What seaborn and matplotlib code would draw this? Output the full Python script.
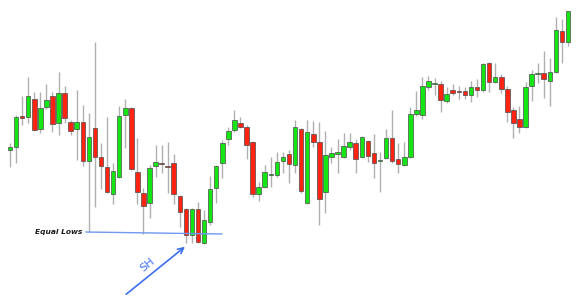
import numpy as np
import pandas as pd
import matplotlib
matplotlib.use("Agg")
import matplotlib.pyplot as plt
import seaborn as sns

opens = [150, 153, 184, 183, 201, 171, 193, 204, 177, 207, 178, 171, 178, 139, 172, 143, 133, 106, 123, 185,
         192, 128, 107, 97, 134, 137.5, 134.5, 137, 104, 91, 65, 91, 57, 78, 112, 137, 161, 170, 177, 173,
         158, 106, 113, 125.5, 125, 139, 146, 135, 171, 97, 166, 158, 108, 143, 146, 143, 153, 157, 143, 159,
         147, 139.5, 142, 162, 141, 135, 143, 186, 185, 213, 216.5, 216, 199, 210, 209, 209, 205, 213, 210, 237,
         218, 223, 211, 190, 181, 173, 214, 226.5, 227, 219, 228, 269, 258]
highs = [157, 185, 204, 223, 208, 208, 216, 208, 228, 214, 180, 210, 195, 187, 258, 157, 183, 137, 194, 201,
         193, 162, 112, 135, 155, 155, 158, 146, 105, 92, 92, 98, 90, 124, 135, 160, 173, 190, 183, 175,
         159, 118, 135, 143, 148, 148, 150, 180, 172, 180, 179, 178, 169, 153, 161, 167, 167, 161, 164, 160,
         166, 148, 171, 190, 157, 158, 193, 209, 223, 224, 222, 219, 213, 216, 214, 213, 219, 221, 237, 238,
         237, 226, 214, 193, 194, 218, 230, 237, 249, 242, 283, 281, 289]
lows = [133, 137, 175, 177, 169, 167, 191, 168, 165, 177, 165, 140, 134, 68, 93, 111, 107, 96, 122, 152,
        130, 96, 66, 82, 123, 127, 107, 96, 73, 57, 57, 57, 56, 75, 97, 122, 155, 168, 172, 141,
        103, 99, 112, 113, 123, 127, 117, 127, 107, 96, 153, 75, 87, 137, 127, 142, 150, 127, 142, 138,
        122, 108, 141, 137, 127, 134, 142, 184, 181, 210, 205, 188, 197, 205, 201, 201, 198, 203, 208, 208,
        217, 207, 178, 162, 167, 172, 199, 217, 202, 194, 227, 237, 254]
closes = [153, 183, 182, 204, 170, 192, 200, 176, 207, 182, 169, 178, 139, 163, 143, 134, 108, 129, 184, 192,
          131, 108, 94, 132, 138, 136.5, 133.5, 106, 88, 65, 91, 58, 80, 111, 134, 157, 169, 180, 173, 155,
          106, 113, 128, 126.5, 138, 143, 136, 173, 109, 168, 158, 101, 145, 147, 148, 154, 158, 141, 163, 144,
          137, 140.5, 162, 139, 136, 143, 186, 190, 214, 219, 217.5, 200, 206, 207, 208, 205, 213, 210, 236, 218,
          223, 211, 188, 177, 173, 213, 226, 227.5, 221, 228, 270, 258, 289]

equal_lows_label = "Equal Lows"
sh_label = "SH"

df = pd.DataFrame({"open": opens, "high": highs, "low": lows, "close": closes})
df["idx"] = np.arange(len(df))
df["up"] = df["close"] >= df["open"]
df["bottom"] = df[["open", "close"]].min(axis=1)
df["height"] = (df["close"] - df["open"]).abs().clip(lower=1.0)

sns.set_theme(style="white")
fig = plt.figure(figsize=(5.8, 2.99), dpi=100)
ax = fig.add_axes([0, 0, 1, 1])

green = "#14e614"
red = "#ff2412"

ax.vlines(df["idx"], df["low"], df["high"], color="#b0b0b0", linewidth=1.0, zorder=1)
ax.bar(df["idx"], df["height"], bottom=df["bottom"], width=0.75,
       color=[green if u else red for u in df["up"]],
       edgecolor="#4a4a4a", linewidth=0.5, zorder=2)

# Equal lows line
line_df = pd.DataFrame({"x": [12.5, 34.95], "y": [68, 66]})
sns.lineplot(data=line_df, x="x", y="y", ax=ax, color="#6f98f0", linewidth=1.0, zorder=3)
ax.text(11.9, 68, equal_lows_label, ha="right", va="center", fontsize=5.4,
        fontweight="bold", fontstyle="italic", color="#1a1a1a")

# SH arrow
ax.annotate("", xy=(29.2, 55), xytext=(18.8, 4),
            arrowprops=dict(arrowstyle="->", color="#3d6ff0", lw=1.2, mutation_scale=10))
ax.text(22.6, 35, sh_label, ha="center", va="center", rotation=39, fontsize=8,
        color="#3d6ff0")

ax.set_xlim(-1.65, 93.98)
ax.set_ylim(1, 300)
ax.set_axis_off()
ax.set_xlabel("")
ax.set_ylabel("")

fig.savefig("out.png", dpi=100)
